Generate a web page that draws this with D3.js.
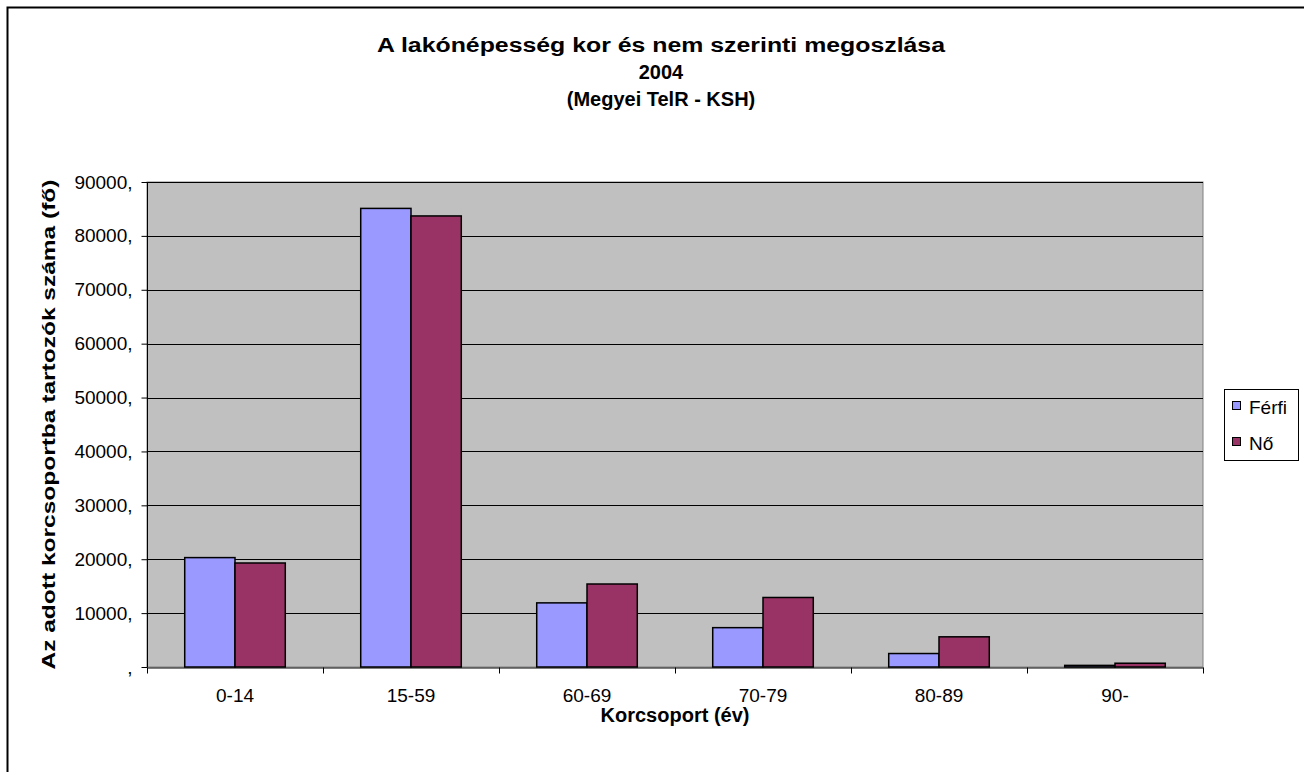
<!DOCTYPE html>
<html>
<head>
<meta charset="utf-8">
<script src="https://cdn.jsdelivr.net/npm/d3@7"></script>
<style>
  body { margin: 0; background: #fff; }
  text { font-family: "Liberation Sans", Arial, sans-serif; fill: #000; }
</style>
</head>
<body>
<div id="chart"></div>
<script>
const categories = ["0-14", "15-59", "60-69", "70-79", "80-89", "90-"];
const seriesNames = ["Férfi", "Nő"];
const ferfi = [20300, 85100, 11900, 7300, 2500, 300];
const no = [19300, 83700, 15400, 12900, 5600, 700];
const yTicks = [0, 10000, 20000, 30000, 40000, 50000, 60000, 70000, 80000, 90000];
const yTickLabels = [",", "10000,", "20000,", "30000,", "40000,", "50000,", "60000,", "70000,", "80000,", "90000,"];
const titleLines = ["A lakónépesség kor és nem szerinti megoszlása", "2004", "(Megyei TelR - KSH)"];
const colors = ["#9999FF", "#993366"];

const width = 1304, height = 772;
const plot = {left: 147, top: 182, right: 1203, bottom: 667};
const fontFamily = '"Liberation Sans", Arial, sans-serif';

const svg = d3.select('#chart')
  .append('svg')
  .attr('width', width)
  .attr('height', height);

// outer chart frame (right/bottom edges fall outside the picture)
svg.append('rect')
  .attr('x', 7.5).attr('y', 7.5)
  .attr('width', 1310).attr('height', 780)
  .style('fill', 'none').style('stroke', '#000').style('stroke-width', 2);

let x = d3.scaleBand().domain(categories).range([plot.left, plot.right]);
let x1 = d3.scaleBand().domain(seriesNames).range([0, x.bandwidth()]).paddingOuter(0.75);
let y = d3.scaleLinear().domain([0, 90000]).range([plot.bottom, plot.top]);

svg.append('rect')
  .attr('x', plot.left).attr('y', plot.top)
  .attr('width', plot.right - plot.left).attr('height', plot.bottom - plot.top)
  .style('fill', '#C0C0C0').style('stroke', '#808080').style('stroke-width', 1);

// gridlines
svg.append('g')
  .selectAll('line')
  .data(yTicks.slice(1))
  .enter().append('line')
  .attr('x1', plot.left).attr('x2', plot.right)
  .attr('y1', d => Math.round(y(d)) + 0.5).attr('y2', d => Math.round(y(d)) + 0.5)
  .style('stroke', '#000').style('stroke-width', 1);

// bars
let data = categories.map((c, i) => ({cat: c, values: [ferfi[i], no[i]]}));
let groups = svg.append('g').selectAll('g')
  .data(data)
  .enter().append('g')
  .attr('transform', d => 'translate(' + x(d.cat) + ',0)');

groups.selectAll('rect')
  .data(d => d.values.map((v, j) => ({name: seriesNames[j], value: v, idx: j})))
  .enter().append('rect')
  .attr('x', d => x1(d.name))
  .attr('y', d => y(d.value))
  .attr('width', x1.bandwidth())
  .attr('height', d => y(0) - y(d.value))
  .style('fill', d => colors[d.idx])
  .style('stroke', '#000').style('stroke-width', 1.5);

// y axis
let yAxis = d3.axisLeft(y)
  .tickValues(yTicks)
  .tickFormat((d, i) => yTickLabels[i])
  .tickSize(6)
  .tickPadding(9);
let gy = svg.append('g')
  .attr('transform', 'translate(' + (plot.left + 0.5) + ',0)')
  .call(yAxis);
gy.selectAll('text').style('font-size', '19px').style('font-family', fontFamily);
gy.selectAll('line, path').style('stroke', '#000');
gy.select('.domain').attr('d', 'M0,' + plot.top + 'V' + plot.bottom);

// x axis
let xAxis = d3.axisBottom(x).tickSize(0).tickPadding(21);
let gx = svg.append('g')
  .attr('transform', 'translate(0,' + (plot.bottom + 0.5) + ')')
  .call(xAxis);
gx.selectAll('text').style('font-size', '19px').style('font-family', fontFamily);
gx.select('.domain').style('stroke', '#000');
gx.selectAll('.tick line').remove();
gx.append('g').selectAll('line')
  .data(categories)
  .enter().append('line')
  .attr('x1', d => Math.round(x(d)) + 0.5).attr('x2', d => Math.round(x(d)) + 0.5)
  .attr('y1', 0).attr('y2', 6)
  .style('stroke', '#000');
gx.append('line')
  .attr('x1', plot.right + 0.5).attr('x2', plot.right + 0.5)
  .attr('y1', 0).attr('y2', 6)
  .style('stroke', '#000');

// titles
let titles = svg.append('g').selectAll('text')
  .data(titleLines)
  .enter().append('text')
  .attr('x', 661)
  .attr('y', (d, i) => 52 + i * 27)
  .attr('text-anchor', 'middle')
  .style('font-weight', 'bold')
  .style('font-size', '20px')
  .text(d => d);
titles.filter((d, i) => i === 0)
  .attr('textLength', 568)
  .attr('lengthAdjust', 'spacingAndGlyphs');

svg.append('text')
  .attr('transform', 'translate(55,' + ((plot.top + plot.bottom) / 2) + ') rotate(-90)')
  .attr('text-anchor', 'middle')
  .attr('textLength', 490)
  .attr('lengthAdjust', 'spacingAndGlyphs')
  .style('font-weight', 'bold')
  .style('font-size', '19px')
  .text('Az adott korcsoportba tartozók száma (fő)');

svg.append('text')
  .attr('x', (plot.left + plot.right) / 2)
  .attr('y', 722)
  .attr('text-anchor', 'middle')
  .style('font-weight', 'bold')
  .style('font-size', '20px')
  .text('Korcsoport (év)');

// legend
let legend = svg.append('g');
legend.append('rect')
  .attr('x', 1224.5).attr('y', 389.5)
  .attr('width', 74).attr('height', 71)
  .style('fill', '#fff').style('stroke', '#000').style('stroke-width', 1);
let items = legend.selectAll('g')
  .data(seriesNames)
  .enter().append('g')
  .attr('transform', (d, i) => 'translate(1232,' + (406 + i * 36) + ')');
items.append('rect')
  .attr('x', 0.5).attr('y', -4.5)
  .attr('width', 8).attr('height', 8)
  .style('fill', (d, i) => colors[i])
  .style('stroke', '#000').style('stroke-width', 1);
items.append('text')
  .attr('x', 17).attr('y', 8)
  .style('font-size', '19px')
  .text(d => d);
</script>
</body>
</html>
